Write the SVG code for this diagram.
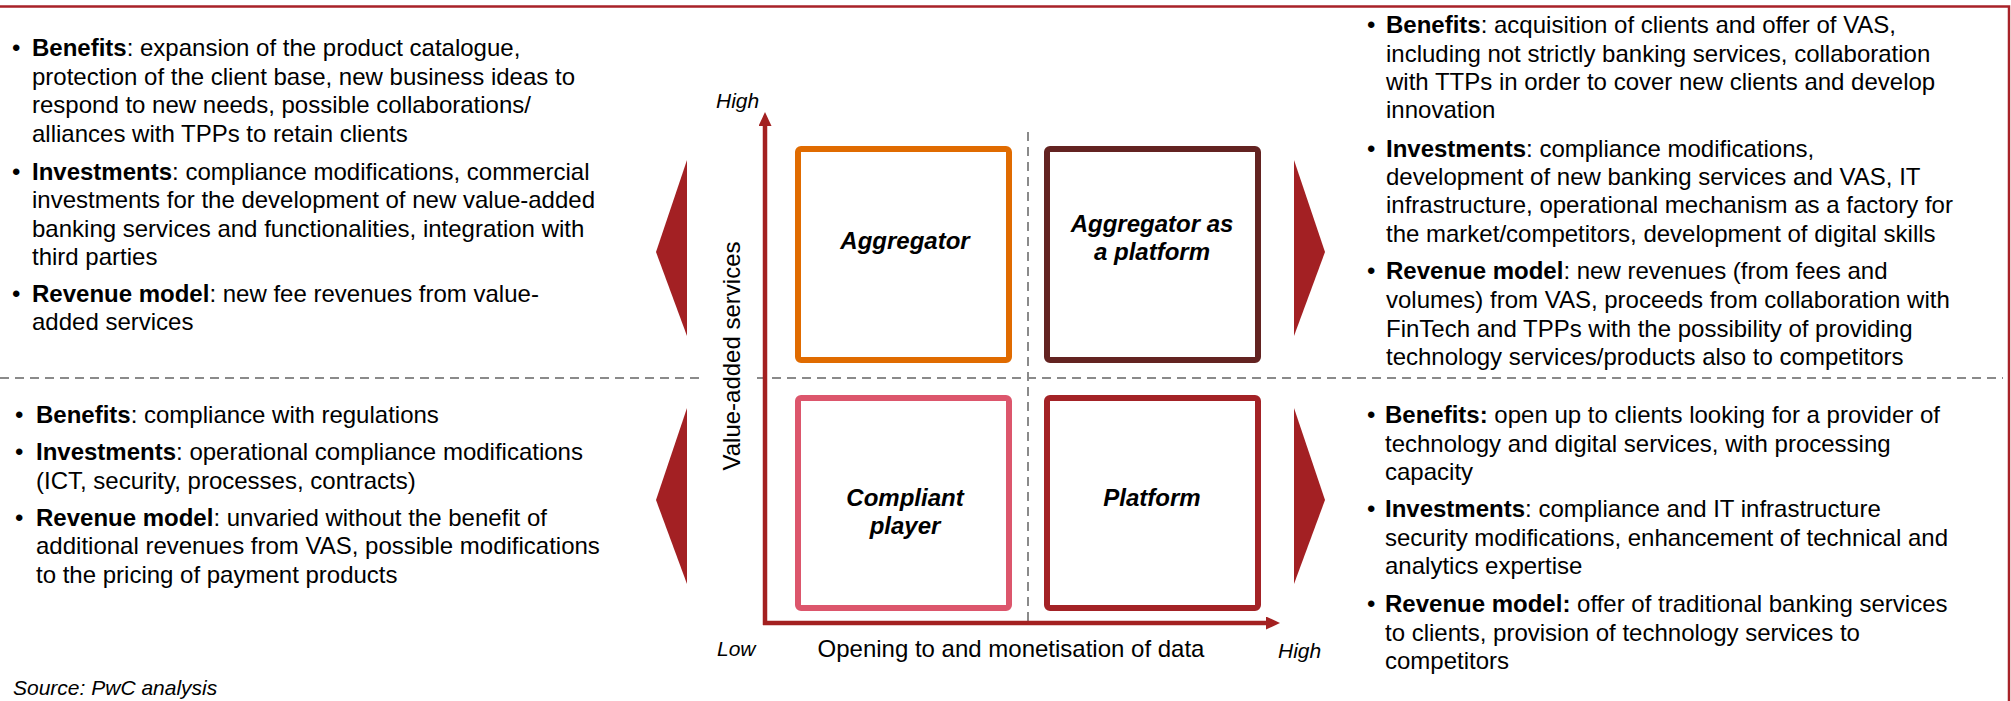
<svg xmlns="http://www.w3.org/2000/svg" width="2011" height="701" viewBox="0 0 2011 701">
<defs>
<style>
.t{font-family:"Liberation Sans",Arial,sans-serif;font-size:24px;fill:#000}
.b{font-weight:bold}
.lbl{font-family:"Liberation Sans",Arial,sans-serif;font-size:24px;font-weight:bold;font-style:italic;fill:#000;text-anchor:middle}
.ax{font-family:"Liberation Sans",Arial,sans-serif;font-size:21px;font-style:italic;fill:#000}
.box{fill:#fff;stroke-width:6}
.dash{stroke:#8a8a8a;stroke-width:2;stroke-dasharray:9 6;fill:none}
.axis{stroke:#a32020;stroke-width:4.5;fill:none}
.chev{fill:#a32023}
</style>
<marker id="ah" viewBox="0 0 14 13" markerWidth="14" markerHeight="13" refX="0" refY="6.5" orient="auto" markerUnits="userSpaceOnUse">
<path d="M0,0 L14,6.5 L0,13 z" fill="#a32020"/>
</marker>
</defs>
<rect width="2011" height="701" fill="#fff"/>
<g id="frame">
<path d="M0,6.5 H2009 V701" fill="none" stroke="#a82228" stroke-width="2.5"/>
</g>
<g id="connectors">
<line class="dash" x1="0" y1="378" x2="703" y2="378"/>
<line class="dash" x1="757" y1="378" x2="2003" y2="378"/>
<line class="dash" x1="1028" y1="132" x2="1028" y2="621"/>
<line class="axis" x1="765" y1="625" x2="765" y2="126" marker-end="url(#ah)"/>
<line class="axis" x1="763" y1="623" x2="1266" y2="623" marker-end="url(#ah)"/>
<polygon class="chev" points="687,160 687,336 656,252"/>
<polygon class="chev" points="1294,160 1294,336 1325,252"/>
<polygon class="chev" points="687,408 687,584 656,500"/>
<polygon class="chev" points="1294,408 1294,584 1325,500"/>
</g>
<g id="axis-labels">
<text class="ax" x="716" y="108">High</text>
<text class="ax" x="717" y="656">Low</text>
<text class="ax" x="1278" y="658">High</text>
<text class="t" x="1011" y="657" text-anchor="middle">Opening to and monetisation of data</text>
<text class="t" transform="translate(740,356) rotate(-90)" text-anchor="middle">Value-added services</text>
</g>
<g id="aggregator">
<rect class="box" x="798" y="149" width="211" height="211" rx="3" stroke="#e06b00"/>
<text class="lbl" x="905" y="249">Aggregator</text>
</g>
<g id="aggregator-platform">
<rect class="box" x="1047" y="149" width="211" height="211" rx="3" stroke="#632321"/>
<text class="lbl" x="1152" y="232">Aggregator as</text>
<text class="lbl" x="1152" y="260">a platform</text>
</g>
<g id="compliant-player">
<rect class="box" x="798" y="398" width="211" height="210" rx="3" stroke="#dc566c"/>
<text class="lbl" x="905" y="506">Compliant</text>
<text class="lbl" x="905" y="534">player</text>
</g>
<g id="platform">
<rect class="box" x="1047" y="398" width="211" height="210" rx="3" stroke="#a32226"/>
<text class="lbl" x="1152" y="506">Platform</text>
</g>
<g id="text-aggregator">
<text class="t" x="12" y="56">•</text>
<text class="t" x="32" y="56"><tspan class="b">Benefits</tspan>: expansion of the product catalogue,</text>
<text class="t" x="32" y="85">protection of the client base, new business ideas to</text>
<text class="t" x="32" y="113">respond to new needs, possible collaborations/</text>
<text class="t" x="32" y="142">alliances with TPPs to retain clients</text>
<text class="t" x="12" y="180">•</text>
<text class="t" x="32" y="180"><tspan class="b">Investments</tspan>: compliance modifications, commercial</text>
<text class="t" x="32" y="208">investments for the development of new value-added</text>
<text class="t" x="32" y="237">banking services and functionalities, integration with</text>
<text class="t" x="32" y="265">third parties</text>
<text class="t" x="12" y="302">•</text>
<text class="t" x="32" y="302"><tspan class="b">Revenue model</tspan>: new fee revenues from value-</text>
<text class="t" x="32" y="330">added services</text>
</g>
<g id="text-compliant">
<text class="t" x="15" y="423">•</text>
<text class="t" x="36" y="423"><tspan class="b">Benefits</tspan>: compliance with regulations</text>
<text class="t" x="15" y="460">•</text>
<text class="t" x="36" y="460"><tspan class="b">Investments</tspan>: operational compliance modifications</text>
<text class="t" x="36" y="489">(ICT, security, processes, contracts)</text>
<text class="t" x="15" y="526">•</text>
<text class="t" x="36" y="526"><tspan class="b">Revenue model</tspan>: unvaried without the benefit of</text>
<text class="t" x="36" y="554">additional revenues from VAS, possible modifications</text>
<text class="t" x="36" y="583">to the pricing of payment products</text>
</g>
<g id="text-aggregator-platform">
<text class="t" x="1367" y="33">•</text>
<text class="t" x="1386" y="33"><tspan class="b">Benefits</tspan>: acquisition of clients and offer of VAS,</text>
<text class="t" x="1386" y="62">including not strictly banking services, collaboration</text>
<text class="t" x="1386" y="90">with TTPs in order to cover new clients and develop</text>
<text class="t" x="1386" y="118">innovation</text>
<text class="t" x="1367" y="157">•</text>
<text class="t" x="1386" y="157"><tspan class="b">Investments</tspan>: compliance modifications,</text>
<text class="t" x="1386" y="185">development of new banking services and VAS, IT</text>
<text class="t" x="1386" y="213">infrastructure, operational mechanism as a factory for</text>
<text class="t" x="1386" y="242">the market/competitors, development of digital skills</text>
<text class="t" x="1367" y="279">•</text>
<text class="t" x="1386" y="279"><tspan class="b">Revenue model</tspan>: new revenues (from fees and</text>
<text class="t" x="1386" y="308">volumes) from VAS, proceeds from collaboration with</text>
<text class="t" x="1386" y="337">FinTech and TPPs with the possibility of providing</text>
<text class="t" x="1386" y="365">technology services/products also to competitors</text>
</g>
<g id="text-platform">
<text class="t" x="1367" y="423">•</text>
<text class="t" x="1385" y="423"><tspan class="b">Benefits:</tspan> open up to clients looking for a provider of</text>
<text class="t" x="1385" y="452">technology and digital services, with processing</text>
<text class="t" x="1385" y="480">capacity</text>
<text class="t" x="1367" y="517">•</text>
<text class="t" x="1385" y="517"><tspan class="b">Investments</tspan>: compliance and IT infrastructure</text>
<text class="t" x="1385" y="546">security modifications, enhancement of technical and</text>
<text class="t" x="1385" y="574">analytics expertise</text>
<text class="t" x="1367" y="612">•</text>
<text class="t" x="1385" y="612"><tspan class="b">Revenue model:</tspan> offer of traditional banking services</text>
<text class="t" x="1385" y="641">to clients, provision of technology services to</text>
<text class="t" x="1385" y="669">competitors</text>
</g>
<g id="source">
<text class="ax" x="13" y="695">Source: PwC analysis</text>
</g>
</svg>
